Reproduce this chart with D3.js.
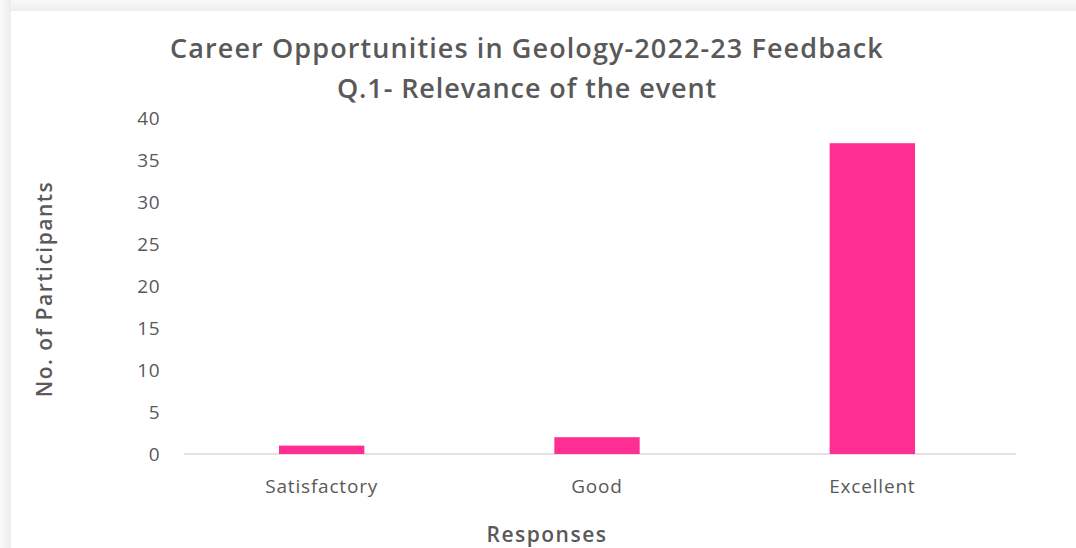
<!DOCTYPE html>
<html>
<head>
<meta charset="utf-8">
<script src="https://cdn.jsdelivr.net/npm/d3@7"></script>
<style>
  body { margin: 0; background: #fff; }
  text { font-family: "Open Sans", "Noto Sans", sans-serif; }
</style>
</head>
<body>
<div id="chart"></div>
<script>
const categories = ["Satisfactory", "Good", "Excellent"];
const participants = [1, 2, 37];
const yTicks = [0, 5, 10, 15, 20, 25, 30, 35, 40];

const width = 1076, height = 548;
const margin = { top: 118, right: 66, bottom: 94, left: 184 };

const svg = d3.select("#chart")
  .append("svg")
  .attr("width", width)
  .attr("height", height);

// faint shadow frame along the top and left edges
const defs = svg.append("defs");
const gTop = defs.append("linearGradient").attr("id", "shTop").attr("x1", 0).attr("y1", 0).attr("x2", 0).attr("y2", 1);
gTop.append("stop").attr("offset", "0%").attr("stop-color", "#fafafa");
gTop.append("stop").attr("offset", "100%").attr("stop-color", "#ededed");
const gLeft = defs.append("linearGradient").attr("id", "shLeft").attr("x1", 0).attr("y1", 0).attr("x2", 1).attr("y2", 0);
gLeft.append("stop").attr("offset", "0%").attr("stop-color", "#fafafa");
gLeft.append("stop").attr("offset", "100%").attr("stop-color", "#ededed");
svg.append("rect").attr("x", 0).attr("y", 0).attr("width", width).attr("height", 11).attr("fill", "url(#shTop)");
svg.append("rect").attr("x", 0).attr("y", 0).attr("width", 11).attr("height", height).attr("fill", "url(#shLeft)");

const x = d3.scaleBand()
  .domain(categories)
  .range([margin.left, width - margin.right])
  .paddingInner(0.69)
  .paddingOuter(0.345);

const y = d3.scaleLinear()
  .domain([0, 40])
  .range([height - margin.bottom, margin.top]);

// baseline
svg.append("line")
  .attr("x1", margin.left).attr("x2", width - margin.right + 6)
  .attr("y1", y(0)).attr("y2", y(0))
  .attr("stroke", "#d9d9d9").attr("stroke-width", 1.5);

// y axis tick labels
const yAxis = d3.axisLeft(y).tickValues(yTicks).tickSize(0).tickPadding(0);
const yg = svg.append("g")
  .attr("transform", `translate(${margin.left - 24},0)`)
  .call(yAxis);
yg.select(".domain").remove();
yg.selectAll("text")
  .attr("fill", "#595959")
  .style("font-size", "19px")
  .style("letter-spacing", "0.5px");

// bars
svg.selectAll("rect.bar")
  .data(participants)
  .join("rect")
  .attr("class", "bar")
  .attr("x", (d, i) => x(categories[i]))
  .attr("width", x.bandwidth())
  .attr("y", d => y(d))
  .attr("height", d => y(0) - y(d))
  .attr("fill", "#fe2e93");

// x axis labels
const xAxis = d3.axisBottom(x).tickSize(0).tickPadding(0);
const xg = svg.append("g")
  .attr("transform", `translate(0,${y(0) + 25})`)
  .call(xAxis);
xg.select(".domain").remove();
xg.selectAll("text")
  .attr("fill", "#595959")
  .style("font-size", "19px")
  .style("letter-spacing", "0.8px");

// titles
svg.append("text")
  .attr("x", 527).attr("y", 58)
  .attr("text-anchor", "middle")
  .attr("fill", "#595959")
  .style("font-size", "27px")
  .style("font-weight", 600)
  .style("letter-spacing", "1.1px")
  .text("Career Opportunities in Geology-2022-23 Feedback");

svg.append("text")
  .attr("x", 527).attr("y", 98)
  .attr("text-anchor", "middle")
  .attr("fill", "#595959")
  .style("font-size", "27px")
  .style("font-weight", 600)
  .style("letter-spacing", "0.9px")
  .text("Q.1- Relevance of the event");

svg.append("text")
  .attr("x", 547).attr("y", 542)
  .attr("text-anchor", "middle")
  .attr("fill", "#595959")
  .style("font-size", "21px")
  .style("font-weight", 600)
  .style("letter-spacing", "1.5px")
  .text("Responses");

svg.append("text")
  .attr("transform", `translate(52,${(y(0) + y(40)) / 2 + 3}) rotate(-90)`)
  .attr("text-anchor", "middle")
  .attr("fill", "#595959")
  .style("font-size", "21px")
  .style("font-weight", 600)
  .style("letter-spacing", "1.5px")
  .text("No. of Participants");
</script>
</body>
</html>
